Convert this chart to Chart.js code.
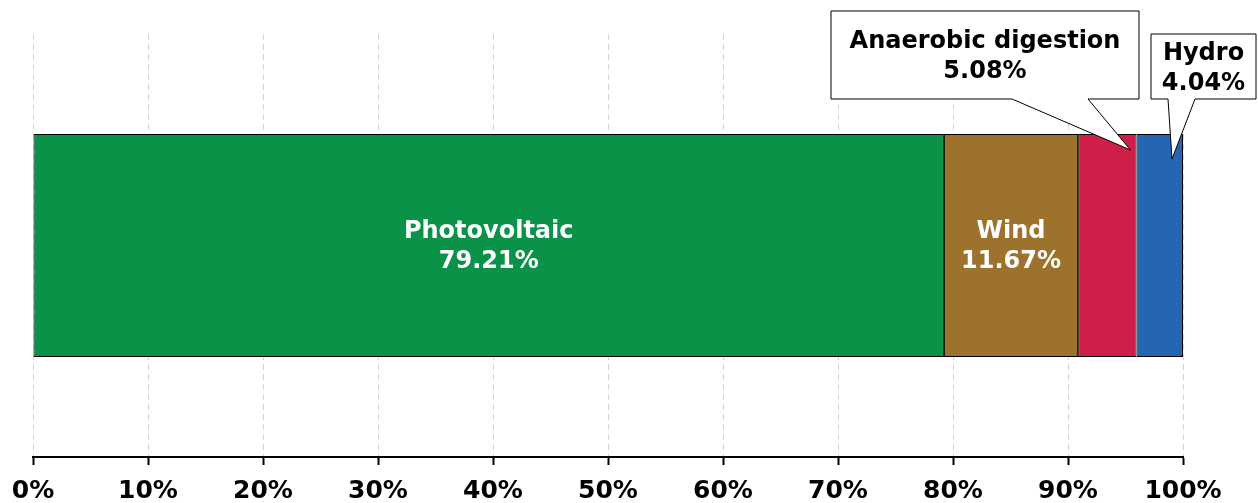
<!DOCTYPE html>
<html>
<head>
<meta charset="utf-8">
<script src="https://cdn.jsdelivr.net/npm/chart.js@4/dist/chart.umd.min.js"></script>
<style>
  html, body { margin: 0; padding: 0; background: #fff; }
  #wrap { width: 1258px; height: 503px; }
</style>
</head>
<body>
<div id="wrap"><canvas id="shareChart"></canvas></div>
<script>
// data
const sources = ['Photovoltaic', 'Wind', 'Anaerobic digestion', 'Hydro'];
const shares = [79.21, 11.67, 5.08, 4.04];
const colors = ['#0a9249', '#9d722c', '#cd1f48', '#2565b1'];
const xTicks = [0, 10, 20, 30, 40, 50, 60, 70, 80, 90, 100];

const FONT = "'DejaVu Sans', Verdana, sans-serif";

// callout boxes for the thin slices (canvas px), tip is relative to the bar end / top
const callouts = {
  2: { box: [831, 11, 308, 88], base: [1012, 1088], tip: [-6, 16] },
  3: { box: [1151, 34, 105, 65], base: [1168, 1195], tip: [-11, 25] }
};

const labelPlugin = {
  id: 'segLabels',
  afterDatasetsDraw(chart) {
    const c = chart.ctx;
    c.save();
    c.font = 'bold 24px ' + FONT;
    c.textAlign = 'center';
    c.textBaseline = 'middle';
    chart.data.datasets.forEach((ds, i) => {
      const bar = chart.getDatasetMeta(i).data[0];
      const text = [sources[i], shares[i].toFixed(2) + '%'];
      const top = bar.y - bar.height / 2;
      if (!callouts[i]) {
        const cx = (bar.x + bar.base) / 2;
        c.fillStyle = '#fff';
        c.fillText(text[0], cx, bar.y - 14);
        c.fillText(text[1], cx, bar.y + 16);
        return;
      }
      const co = callouts[i];
      const [bx, by, bw, bh] = co.box;
      const tx = bar.x + co.tip[0], ty = top + co.tip[1];
      c.beginPath();
      c.moveTo(bx, by);
      c.lineTo(bx + bw, by);
      c.lineTo(bx + bw, by + bh);
      c.lineTo(co.base[1], by + bh);
      c.lineTo(tx, ty);
      c.lineTo(co.base[0], by + bh);
      c.lineTo(bx, by + bh);
      c.closePath();
      c.fillStyle = '#fff';
      c.fill();
      c.lineWidth = 1;
      c.strokeStyle = '#000';
      c.stroke();
      const cy = by + bh / 2 + 1;
      c.fillStyle = '#000';
      c.fillText(text[0], bx + bw / 2, cy - 14);
      c.fillText(text[1], bx + bw / 2, cy + 16);
    });
    c.restore();
  }
};

new Chart(document.getElementById('shareChart'), {
  type: 'bar',
  data: {
    labels: ['Share'],
    datasets: sources.map((s, i) => ({
      label: s,
      data: [shares[i]],
      backgroundColor: colors[i],
      borderColor: '#000',
      borderWidth: 1,
      borderSkipped: false,
      barPercentage: 1,
      categoryPercentage: 0.527
    }))
  },
  options: {
    indexAxis: 'y',
    responsive: true,
    maintainAspectRatio: false,
    animation: false,
    layout: { padding: { top: 34, left: 33, right: 75, bottom: 0 } },
    scales: {
      x: {
        stacked: true,
        min: 0,
        max: 100,
        afterBuildTicks(axis) { axis.ticks = xTicks.map(v => ({ value: v })); },
        afterFit(axis) {
          axis.paddingLeft = 0;
          axis.paddingRight = 0;
          axis.height = 46;
        },
        grid: {
          color: '#d6d6d6',
          lineWidth: 1,
          borderDash: [6, 4],
          tickColor: '#000',
          tickLength: 8,
          tickWidth: 2,
          tickBorderDash: []
        },
        border: { color: '#000', width: 2, dash: [6, 4] },
        ticks: {
          color: '#000',
          padding: 11,
          maxRotation: 0,
          font: { family: FONT, size: 25, weight: 'bold' },
          callback: v => v + '%'
        }
      },
      y: {
        stacked: true,
        display: false
      }
    },
    plugins: {
      legend: { display: false },
      tooltip: { enabled: false }
    }
  },
  plugins: [labelPlugin]
});
</script>
</body>
</html>
